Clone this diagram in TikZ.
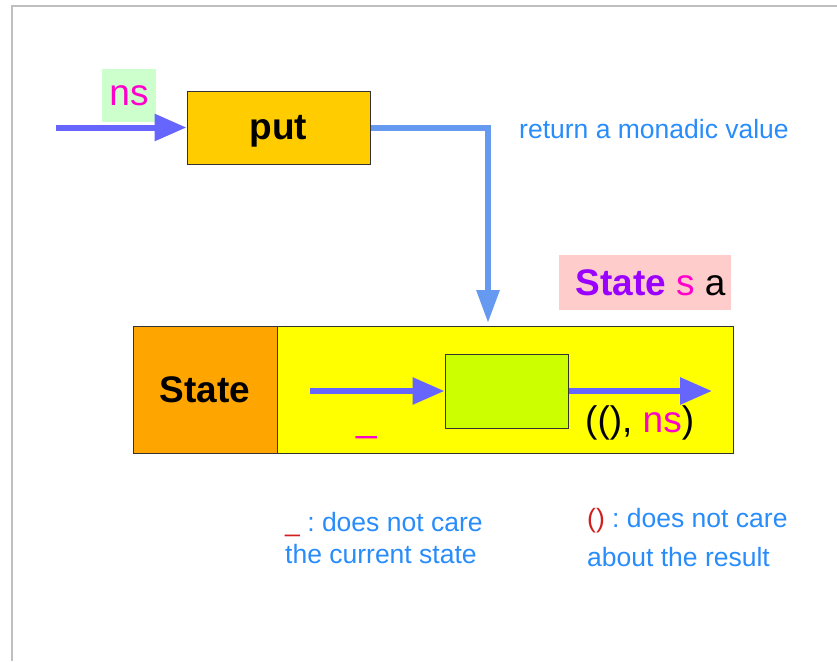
\documentclass[tikz,border=0pt]{standalone}
\usepackage{fontspec}
\setmainfont{Liberation Sans}
\usepackage{tikz}
\usetikzlibrary{arrows.meta,positioning}
\frenchspacing

\definecolor{putfill}{RGB}{255,204,0}
\definecolor{stfill}{RGB}{255,165,0}
\definecolor{runfill}{RGB}{255,255,0}
\definecolor{corefill}{RGB}{204,255,0}
\definecolor{nsfill}{RGB}{204,255,204}
\definecolor{typefill}{RGB}{255,204,204}
\definecolor{flow}{RGB}{102,102,255}
\definecolor{retflow}{RGB}{102,153,240}
\definecolor{note}{RGB}{40,140,250}
\definecolor{hot}{RGB}{255,0,204}
\definecolor{stpurple}{RGB}{153,0,255}
\definecolor{unitred}{RGB}{210,30,30}

\begin{document}
\begin{tikzpicture}[x=1pt,y=-1pt,
    big/.style={font=\fontsize{37}{44}\selectfont},
    small/.style={font=\fontsize{26.5}{31}\selectfont},
    box/.style={draw=black!80,line width=1pt,inner sep=0pt},
    flowline/.style={line width=6pt,flow,-{Triangle[length=32pt,width=26pt]}},
    txt/.style={inner sep=0pt,anchor=base west}]
    \useasboundingbox (0,0) rectangle (837,661);
    % Rand
    \draw[black!25,line width=1.2pt] (837,6) -- (12,6) -- (12,661);
    % put og dens input
    \node[box,fill=putfill,minimum width=183pt,minimum height=73pt,big,text depth=0pt]
        (put) at (278.5,127.5) {\textbf{put}};
    \node[fill=nsfill,minimum width=54pt,minimum height=53pt,inner sep=0pt,big,text=hot]
        (nsin) at (129,95.5) {ns};
    \coordinate (in) at (56,127.5);
    \draw[flowline] (in) -- (put.west);
    \node[txt,small,text=note] (ret) at (519,138) {return a monadic value};
    % Typen
    \node[fill=typefill,minimum width=172pt,minimum height=55pt,inner sep=0pt,big]
        (type) at (645,282.5) {\hspace*{11pt}\textcolor{stpurple}{\textbf{State}} \textcolor{hot}{s} a};
    % State-boksen
    \node[box,fill=stfill,minimum width=144pt,minimum height=127pt,big]
        (st) at (205,389.5) {\textbf{State}};
    \node[box,fill=runfill,minimum width=456pt,minimum height=127pt]
        (run) at (505,389.5) {};
    \node[box,fill=corefill,minimum width=123pt,minimum height=74pt]
        (core) at (506.5,391) {};
    \coordinate (drop) at (488,323);
    \draw[line width=6pt,retflow,-{Triangle[length=33pt,width=22pt]}] (put.east) -| (drop);
    \coordinate (sin) at (310,391);
    \coordinate (sout) at (712,391);
    \draw[flowline] (sin) -- (core.west);
    \draw[flowline] (core.east) -- (sout);
    \node[txt,big,text=hot] (blank) at (356,431) {\_};
    \node[txt,big] (res) at (585,432) {((), \textcolor{hot}{ns})};
    % Forklaringer
    \node[txt,small,text=note] (n1) at (285,531) {\textcolor{unitred}{\_} : does not care};
    \node[txt,small,text=note] (n2) at (285,563) {the current state};
    \node[txt,small,text=note] (n3) at (587,527) {\textcolor{unitred}{()} : does not care};
    \node[txt,small,text=note] (n4) at (587,566) {about the result};
\end{tikzpicture}
\end{document}
